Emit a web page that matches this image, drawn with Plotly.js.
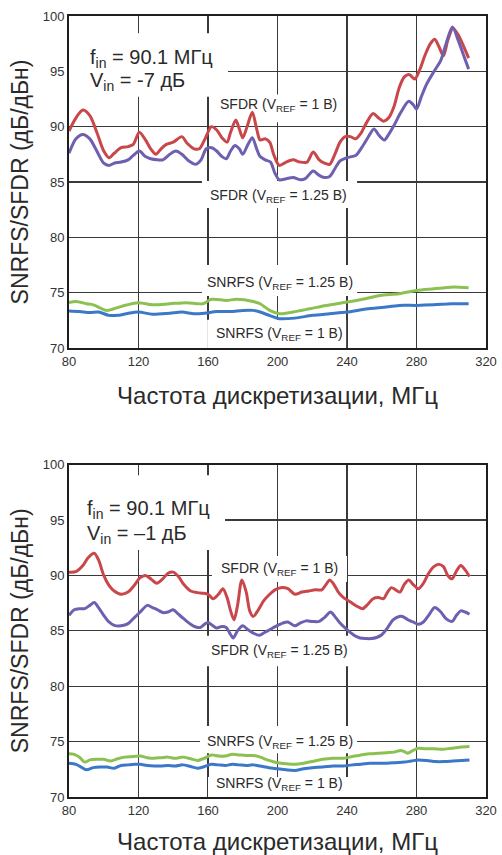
<!DOCTYPE html>
<html>
<head>
<meta charset="utf-8">
<script src="https://cdn.plot.ly/plotly-3.0.1.min.js"></script>
<style>html,body{margin:0;padding:0;background:#fff}#chart{width:502px;height:855px}</style>
</head>
<body>
<div id="chart"></div>
<script>
// ---------- Top chart (Vin = -7 dB) ----------
const topSfdr1Freq = [80,84,88,92,96,100,103,106,110,114,117,120.5,124,127,130,133,136,140,145,148,152,155,158,162,165,168,171,173,176,178,180,182.5,185.5,188,190,193,195.5,198,201,205,209,213,217,220.5,224,227,230,233,236,239,242,245,248,251,255,258,261,264,267,270,273,276,279,282,285,288,290.5,293,295.5,298,301,304,307,310];
const topSfdr1Val  = [89.6,90.8,91.5,91.0,89.5,87.8,87.2,87.6,88.1,88.2,88.4,89.5,88.8,88.0,87.5,88.0,88.4,88.6,89.1,88.5,88.0,88.0,88.8,90.0,89.7,89.0,88.6,89.5,90.6,89.8,89.0,90.0,91.3,89.8,88.8,88.9,88.6,87.4,86.5,86.8,87.0,86.8,86.8,87.7,87.0,86.7,86.6,87.5,88.6,89.1,89.1,88.9,89.4,90.3,91.2,90.8,90.5,90.8,91.8,93.5,94.5,94.7,94.3,95.2,96.5,97.5,97.9,97.2,96.4,97.8,98.9,98.3,97.3,96.2];

const topSfdr125Freq = [80,84,88,92,96,100,103,106,110,114,117,120.5,124,127,131,134,138,141.5,145,149,153,156,159,162,165,168,170.5,173,175.5,178,180,183,185.5,188,190,193,196,198.5,201,205,209,213,216,220.5,224,227,230,233,236,240,245,248,252,255.5,258.5,261.5,264,267,271,275.5,278,280,283,286,290.5,294,297,300.7,304,307,310];
const topSfdr125Val  = [87.6,88.9,89.3,88.9,87.8,86.7,86.5,86.7,86.8,87.0,87.4,87.8,87.3,87.1,87.0,87.0,87.5,87.8,87.5,86.9,86.6,87.0,88.0,88.1,87.8,87.3,87.1,87.8,88.3,88.0,87.5,88.4,89.0,88.0,87.3,87.0,86.8,85.8,85.2,85.3,85.4,85.2,85.3,86.0,85.6,85.4,85.5,86.2,86.9,87.2,87.4,88.0,89.0,89.8,89.2,88.8,89.3,90.1,91.3,92.3,92.0,91.6,92.8,93.9,95.1,96.0,97.5,99.0,97.8,96.5,95.2];

const topSnr125Freq = [80,84,90,94,101.5,105,111,119.7,128,138,147.5,157,162,170.6,176.4,186,190,195.5,201.3,209,218.6,228,240,249,259,270,280,290,300,310];
const topSnr125Val  = [74.1,74.2,74.0,73.9,73.4,73.5,73.8,74.1,73.9,74.0,74.1,74.0,74.4,74.3,74.4,74.2,74.0,73.4,73.1,73.25,73.55,73.85,74.15,74.4,74.75,74.9,75.2,75.35,75.5,75.45];

const topSnr1Freq = [80,86,92,97,103,108,113,120,128,138,145,152,158,165,173,180,186,190,196,201,210,220,230,240,250,260,270,280,290,300,310];
const topSnr1Val  = [73.35,73.3,73.2,73.25,72.95,72.95,73.1,73.25,73.05,73.15,73.25,73.1,73.15,73.3,73.3,73.4,73.4,73.25,72.9,72.65,72.7,72.95,73.1,73.25,73.5,73.65,73.85,73.85,73.9,74.0,74.0];

// ---------- Bottom chart (Vin = -1 dB) ----------
const botSfdr1Freq = [80,84,88,91,94.5,97,100,103,106,110,114,117,121,124,127,130.5,134,137,140,143,146,150,154,157,160,163,166,168.6,171,173,175,177,179.5,182,184,186,189,192,195.5,198.5,202,206,210,214,218,222,225.5,228,230,232,235,238,242,246,249,252,255,258,261,263,265.5,268,270.5,273,275.5,278,281,284,287,290,293,295.5,298,300.5,303,305.5,308,310.5];
const botSfdr1Val  = [90.3,90.35,90.9,91.6,92.0,91.4,90.0,89.1,88.6,88.3,88.5,89.0,89.8,90.0,89.7,89.3,89.7,90.2,90.3,89.9,89.2,88.6,88.45,88.4,88.3,87.9,88.3,88.8,88.0,86.8,86.0,87.3,89.6,88.5,86.8,86.3,86.9,87.7,88.3,88.7,88.9,88.8,88.3,88.5,88.6,88.7,88.7,89.2,89.6,89.3,88.5,88.0,87.6,87.2,87.0,87.4,87.9,88.0,87.9,88.4,88.9,88.7,88.5,89.2,89.6,89.2,88.8,89.3,90.2,90.8,91.0,90.8,90.0,89.7,90.4,90.9,90.5,89.9];

const botSfdr125Freq = [80,83,86,89,92,94.5,97,100,103,106,110,114,117,121,125,128,131,134,137,140,143,146,150,153,155.5,158,160,162.5,165,168,170.5,172.5,174.5,177,180,183,186,189.5,192.5,195.5,199,203,206,210,213,216.5,220,224,227,230.5,233,236,240,244,247.5,251,254,257,260,263,266.5,270,272,275,278,281,284,287,290.5,294,297,300.5,303,305.5,308,310.5];
const botSfdr125Val  = [86.4,86.9,87.0,87.0,87.3,87.55,87.1,86.4,85.8,85.5,85.45,85.65,86.1,86.7,87.3,87.1,86.9,86.65,86.7,86.9,86.5,86.1,85.6,85.35,85.3,85.6,85.75,85.5,85.25,85.4,85.3,84.8,84.35,85.0,85.45,85.1,84.8,84.6,84.85,85.1,85.4,85.7,85.8,85.45,85.7,85.9,85.85,85.85,86.2,86.7,86.3,85.7,85.1,84.6,84.35,84.3,84.3,84.4,84.65,85.2,86.0,86.3,86.3,86.0,85.8,85.6,85.8,86.4,87.1,86.7,86.1,85.85,86.4,86.8,86.7,86.5];

const botSnr125Freq = [80,83,86,89,92,96,100,104,108,112,117,121,125,129,133,137,141,145.6,150,154,158,162,166,170,174,178,182,186,190,195,200,205,210,215,220,226,232,238,243,248,253,258,263,267,271,273,275,278,281,285,290,295,300,305,310.5];
const botSnr125Val  = [73.9,73.85,73.6,73.15,73.35,73.4,73.4,73.25,73.45,73.6,73.65,73.7,73.55,73.5,73.55,73.6,73.5,73.6,73.45,73.3,73.5,73.8,73.7,73.7,73.85,73.8,73.75,73.75,73.6,73.3,73.1,73.0,72.95,73.05,73.2,73.4,73.5,73.5,73.65,73.8,73.9,73.95,74.0,74.05,74.2,74.1,73.95,74.2,74.4,74.35,74.35,74.3,74.4,74.5,74.55];

const botSnr1Freq = [80,84,87,90,94,98,102,106,110,114,118,121,125,129,133,137,141,145.6,150,154,158,162,166,170,174,178,182,186,190,195,200,205,210,215,220,226,232,238,243,248,253,258,263,268,273,277,281,286,291,296,301,306,310.5];
const botSnr1Val  = [73.05,72.95,72.7,72.45,72.65,72.7,72.7,72.6,72.85,72.9,72.95,72.95,72.85,72.8,72.8,72.85,72.8,72.9,72.75,72.6,72.75,72.95,72.9,72.85,72.95,72.9,72.85,72.9,72.8,72.65,72.55,72.45,72.4,72.55,72.65,72.7,72.8,72.8,72.9,72.95,73.05,73.05,73.05,73.1,73.15,73.25,73.35,73.3,73.2,73.2,73.25,73.3,73.35];

const xTickVals = [80,120,160,200,240,280,320];
const yTickVals = [70,75,80,85,90,95,100];
const xTitleText = 'Частота дискретизации, МГц';
const yTitleText = 'SNRFS/SFDR (дБ/дБн)';

const RED = '#c9474b', PURPLE = '#6f5fb0', GREEN = '#8cc152', BLUE = '#3b78c7';
const FONT = 'Liberation Sans, Arial, Helvetica, sans-serif';

function tr(x, y, color, xa, ya) {
  return {x: x, y: y, type: 'scatter', mode: 'lines', xaxis: xa, yaxis: ya,
          line: {color: color, width: 3, shape: 'spline', smoothing: 0.8},
          hoverinfo: 'skip', showlegend: false};
}

const data = [
  tr(topSnr125Freq, topSnr125Val, GREEN, 'x', 'y'),
  tr(topSnr1Freq, topSnr1Val, BLUE, 'x', 'y'),
  tr(topSfdr1Freq, topSfdr1Val, RED, 'x', 'y'),
  tr(topSfdr125Freq, topSfdr125Val, PURPLE, 'x', 'y'),
  tr(botSnr125Freq, botSnr125Val, GREEN, 'x2', 'y2'),
  tr(botSnr1Freq, botSnr1Val, BLUE, 'x2', 'y2'),
  tr(botSfdr1Freq, botSfdr1Val, RED, 'x2', 'y2'),
  tr(botSfdr125Freq, botSfdr125Val, PURPLE, 'x2', 'y2')
];

function xax(anchor) {
  return {anchor: anchor, range: [80, 320], tickvals: xTickVals, ticktext: xTickVals.map(String),
    showgrid: true, gridcolor: '#3a3a3a', gridwidth: 1.3, zeroline: false,
    showline: true, mirror: true, linecolor: '#1e1e1e', linewidth: 2, ticks: '',
    tickfont: {family: FONT, size: 13, color: '#333'},
    title: {text: xTitleText, font: {family: FONT, size: 24, color: '#2a2a2a'}, standoff: 20}};
}
function yax(anchor, domain) {
  return {anchor: anchor, domain: domain, range: [70, 100], tickvals: yTickVals, ticktext: yTickVals.map(String),
    showgrid: true, gridcolor: '#3a3a3a', gridwidth: 1.3, zeroline: false,
    showline: true, mirror: true, linecolor: '#1e1e1e', linewidth: 2, ticks: '',
    tickfont: {family: FONT, size: 13, color: '#333'},
    title: {text: yTitleText, font: {family: FONT, size: 23, color: '#2a2a2a'}, standoff: 8}};
}

function box(xr, yr, x0, x1, y0, y1) {
  return {type: 'rect', xref: xr, yref: yr, x0: x0, x1: x1, y0: y0, y1: y1,
          fillcolor: '#ffffff', line: {width: 0}, layer: 'between'};
}
function lab(xr, yr, x, y, text, size, anchor) {
  return {xref: xr, yref: yr, x: x, y: y, text: text, showarrow: false,
          xanchor: anchor || 'center', yanchor: 'middle',
          font: {family: FONT, size: size, color: '#2a2a2a'}};
}

const layout = {
  width: 502, height: 855,
  margin: {l: 69, r: 16, t: 16, b: 58},
  paper_bgcolor: '#fff', plot_bgcolor: '#fff',
  xaxis: xax('y'),
  yaxis: yax('x', [0.5749, 1]),
  xaxis2: xax('y2'),
  yaxis2: yax('x2', [0, 0.4255]),
  shapes: [
    box('x', 'y', 80, 171.5, 92.7, 98.45),
    box('x', 'y', 162.9, 237.7, 90.4, 92.9),
    box('x', 'y', 156.5, 245.8, 82.65, 85.1),
    box('x', 'y', 156.5, 245.8, 74.7, 77.5),
    box('x', 'y', 159.5, 239.5, 70, 72.55),
    box('x2', 'y2', 80, 169.8, 92.3, 99.05),
    box('x2', 'y2', 162.3, 240, 89.4, 91.75),
    box('x2', 'y2', 158.3, 242.9, 81.8, 84.55),
    box('x2', 'y2', 155.4, 245.8, 73.95, 76.4),
    box('x2', 'y2', 160, 240.6, 70, 71.8)
  ],
  annotations: [
    lab('x', 'y', 90.8, 96.15, 'f<sub>in</sub> = 90.1 МГц', 20, 'left'),
    lab('x', 'y', 90.8, 94.1, 'V<sub>in</sub> = -7 дБ', 20, 'left'),
    lab('x', 'y', 200.3, 92.0, 'SFDR (V<sub>REF</sub> = 1 В)', 14),
    lab('x', 'y', 200.6, 83.7, 'SFDR (V<sub>REF</sub> = 1.25 В)', 14),
    lab('x', 'y', 201.4, 75.9, 'SNRFS (V<sub>REF</sub> = 1.25 В)', 14),
    lab('x', 'y', 200.9, 71.25, 'SNRFS (V<sub>REF</sub> = 1 В)', 14),
    lab('x2', 'y2', 89.1, 95.95, 'f<sub>in</sub> = 90.1 МГц', 20, 'left'),
    lab('x2', 'y2', 89.1, 93.7, 'V<sub>in</sub> = –1 дБ', 20, 'left'),
    lab('x2', 'y2', 201.4, 90.55, 'SFDR (V<sub>REF</sub> = 1 В)', 14),
    lab('x2', 'y2', 201.4, 83.15, 'SFDR (V<sub>REF</sub> = 1.25 В)', 14),
    lab('x2', 'y2', 201.7, 74.95, 'SNRFS (V<sub>REF</sub> = 1.25 В)', 14),
    lab('x2', 'y2', 201.4, 71.15, 'SNRFS (V<sub>REF</sub> = 1 В)', 14)
  ]
};

Plotly.newPlot('chart', data, layout, {staticPlot: true, displayModeBar: false});
</script>
</body>
</html>
